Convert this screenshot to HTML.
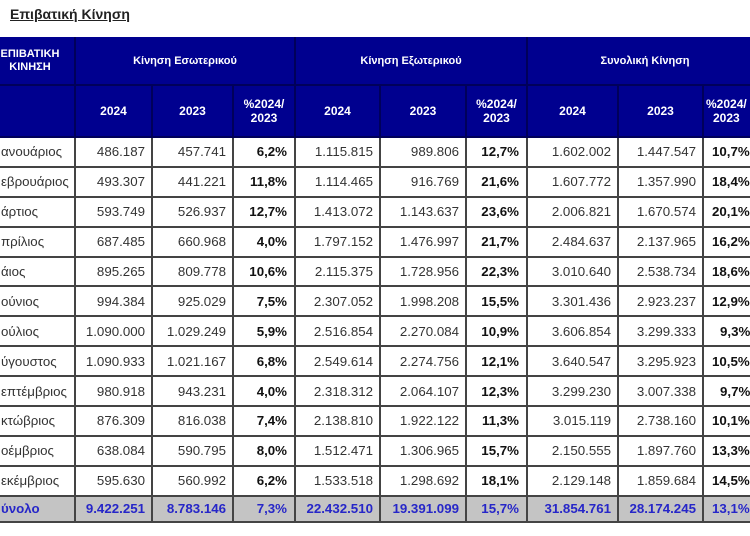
<!DOCTYPE html>
<html>
<head>
<meta charset="utf-8">
<style>
html,body{margin:0;padding:0;background:#fff;}
body{width:750px;height:536px;overflow:hidden;position:relative;font-family:"Liberation Sans","DejaVu Sans",sans-serif;}
.title{position:absolute;left:10px;top:6px;font-size:14px;font-weight:bold;color:#222;text-decoration:underline;}
.g{position:absolute;left:0;top:37px;width:764px;display:grid;
grid-template-columns:76px 77px 81px 62px 85px 86px 61px 91px 85px 60px;
grid-template-rows:49px 52px repeat(12,29.9px) 26px;}
.g>div{box-sizing:border-box;border-right:2px solid #444;border-bottom:2px solid #444;display:flex;align-items:center;white-space:nowrap;overflow:visible;}
.g>div.h{background:#00008f;border-color:#00005a;color:#fff;font-weight:bold;justify-content:center;text-align:center;}
.h1{font-size:11px;}
.h2{font-size:12px;line-height:14px;}
.l{font-size:13.3px;color:#333;padding-left:1px;justify-content:flex-start;}
.n{font-size:13.3px;color:#333;justify-content:flex-end;padding-right:6px;}
.p{font-size:13.3px;color:#111;font-weight:bold;justify-content:flex-end;padding-right:7px;}
.t{background:#c4c4c4;color:#2626c8 !important;font-weight:bold;}
</style>
</head>
<body>
<div class="title">Επιβατική Κίνηση</div>
<div class="g">
<div class="h h1" style="grid-column:1;grid-row:1;padding-right:14px;line-height:13px;">ΕΠΙΒΑΤΙΚΗ<br>ΚΙΝΗΣΗ</div>
<div class="h h1" style="grid-column:2 / 5;grid-row:1;">Κίνηση Εσωτερικού</div>
<div class="h h1" style="grid-column:5 / 8;grid-row:1;">Κίνηση Εξωτερικού</div>
<div class="h h1" style="grid-column:8 / 11;grid-row:1;">Συνολική Κίνηση</div>
<div class="h h2"></div>
<div class="h h2">2024</div><div class="h h2">2023</div><div class="h h2">%2024/<br>2023</div>
<div class="h h2">2024</div><div class="h h2">2023</div><div class="h h2">%2024/<br>2023</div>
<div class="h h2">2024</div><div class="h h2">2023</div><div class="h h2" style="justify-content:flex-start;padding-left:2px;">%2024/<br>2023</div>

<div class="l">ανουάριος</div><div class="n">486.187</div><div class="n">457.741</div><div class="p">6,2%</div><div class="n">1.115.815</div><div class="n">989.806</div><div class="p">12,7%</div><div class="n">1.602.002</div><div class="n">1.447.547</div><div class="p" style="justify-content:flex-start;padding-left:8px;">10,7%</div>
<div class="l">εβρουάριος</div><div class="n">493.307</div><div class="n">441.221</div><div class="p">11,8%</div><div class="n">1.114.465</div><div class="n">916.769</div><div class="p">21,6%</div><div class="n">1.607.772</div><div class="n">1.357.990</div><div class="p" style="justify-content:flex-start;padding-left:8px;">18,4%</div>
<div class="l">άρτιος</div><div class="n">593.749</div><div class="n">526.937</div><div class="p">12,7%</div><div class="n">1.413.072</div><div class="n">1.143.637</div><div class="p">23,6%</div><div class="n">2.006.821</div><div class="n">1.670.574</div><div class="p" style="justify-content:flex-start;padding-left:8px;">20,1%</div>
<div class="l">πρίλιος</div><div class="n">687.485</div><div class="n">660.968</div><div class="p">4,0%</div><div class="n">1.797.152</div><div class="n">1.476.997</div><div class="p">21,7%</div><div class="n">2.484.637</div><div class="n">2.137.965</div><div class="p" style="justify-content:flex-start;padding-left:8px;">16,2%</div>
<div class="l">άιος</div><div class="n">895.265</div><div class="n">809.778</div><div class="p">10,6%</div><div class="n">2.115.375</div><div class="n">1.728.956</div><div class="p">22,3%</div><div class="n">3.010.640</div><div class="n">2.538.734</div><div class="p" style="justify-content:flex-start;padding-left:8px;">18,6%</div>
<div class="l">ούνιος</div><div class="n">994.384</div><div class="n">925.029</div><div class="p">7,5%</div><div class="n">2.307.052</div><div class="n">1.998.208</div><div class="p">15,5%</div><div class="n">3.301.436</div><div class="n">2.923.237</div><div class="p" style="justify-content:flex-start;padding-left:8px;">12,9%</div>
<div class="l">ούλιος</div><div class="n">1.090.000</div><div class="n">1.029.249</div><div class="p">5,9%</div><div class="n">2.516.854</div><div class="n">2.270.084</div><div class="p">10,9%</div><div class="n">3.606.854</div><div class="n">3.299.333</div><div class="p" style="justify-content:flex-start;padding-left:16px;">9,3%</div>
<div class="l">ύγουστος</div><div class="n">1.090.933</div><div class="n">1.021.167</div><div class="p">6,8%</div><div class="n">2.549.614</div><div class="n">2.274.756</div><div class="p">12,1%</div><div class="n">3.640.547</div><div class="n">3.295.923</div><div class="p" style="justify-content:flex-start;padding-left:8px;">10,5%</div>
<div class="l">επτέμβριος</div><div class="n">980.918</div><div class="n">943.231</div><div class="p">4,0%</div><div class="n">2.318.312</div><div class="n">2.064.107</div><div class="p">12,3%</div><div class="n">3.299.230</div><div class="n">3.007.338</div><div class="p" style="justify-content:flex-start;padding-left:16px;">9,7%</div>
<div class="l">κτώβριος</div><div class="n">876.309</div><div class="n">816.038</div><div class="p">7,4%</div><div class="n">2.138.810</div><div class="n">1.922.122</div><div class="p">11,3%</div><div class="n">3.015.119</div><div class="n">2.738.160</div><div class="p" style="justify-content:flex-start;padding-left:8px;">10,1%</div>
<div class="l">οέμβριος</div><div class="n">638.084</div><div class="n">590.795</div><div class="p">8,0%</div><div class="n">1.512.471</div><div class="n">1.306.965</div><div class="p">15,7%</div><div class="n">2.150.555</div><div class="n">1.897.760</div><div class="p" style="justify-content:flex-start;padding-left:8px;">13,3%</div>
<div class="l">εκέμβριος</div><div class="n">595.630</div><div class="n">560.992</div><div class="p">6,2%</div><div class="n">1.533.518</div><div class="n">1.298.692</div><div class="p">18,1%</div><div class="n">2.129.148</div><div class="n">1.859.684</div><div class="p" style="justify-content:flex-start;padding-left:8px;">14,5%</div>
<div class="l t">ύνολο</div><div class="n t">9.422.251</div><div class="n t">8.783.146</div><div class="p t">7,3%</div><div class="n t">22.432.510</div><div class="n t">19.391.099</div><div class="p t">15,7%</div><div class="n t">31.854.761</div><div class="n t">28.174.245</div><div class="p t" style="justify-content:flex-start;padding-left:8px;">13,1%</div>
</div>
</body>
</html>
